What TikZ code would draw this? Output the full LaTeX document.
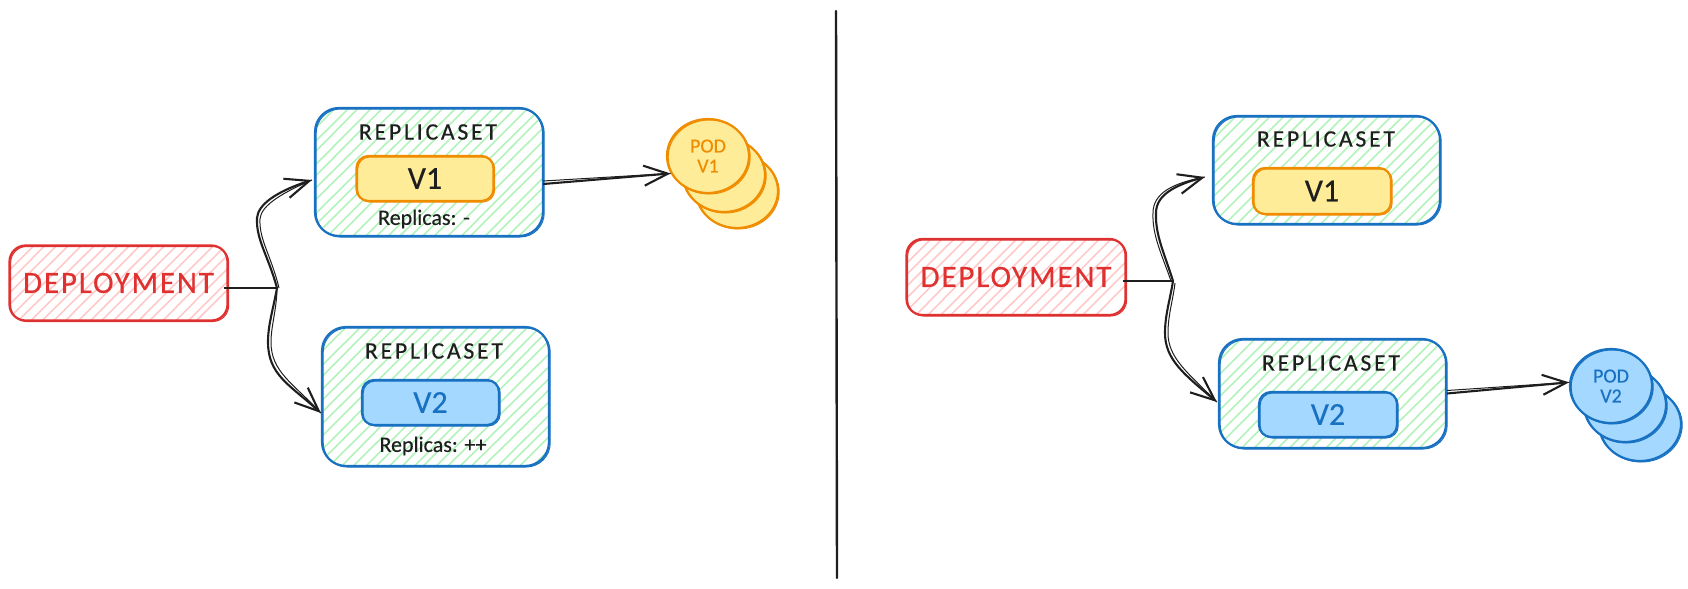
\documentclass[tikz,border=0pt]{standalone}
\usepackage{fontspec}
\usetikzlibrary{arrows.meta,shapes.geometric}
\setmainfont[FakeBold=0.35]{Carlito}
\newfontfamily\capsbig[LetterSpace=6,FakeBold=0.5]{Carlito}
\newfontfamily\capsmid[LetterSpace=12,FakeBold=0.5]{Carlito}
\definecolor{strokered}{HTML}{E03131}
\definecolor{strokeblue}{HTML}{1971C2}
\definecolor{strokeorange}{HTML}{F08C00}
\definecolor{strokeink}{HTML}{1E1E1E}
\definecolor{fillyellow}{HTML}{FFEC99}
\definecolor{fillblue}{HTML}{A5D8FF}
\definecolor{hatchgreen}{HTML}{B2F2BB}
\definecolor{hatchred}{HTML}{FFC9C9}
\tikzset{
  sketchy/.style={draw=#1,line width=1.1pt,
    postaction={draw=#1,line width=.5pt,transform canvas={shift={(.6pt,-.5pt)}}}},
  hatched/.style={path picture={
    \foreach \d in {-200,-188,...,200}{
      \draw[#1,line width=.8pt] (\d-85+rnd*4,90) -- (\d+95+rnd*4,-90);}}},
  rsbox/.style={rectangle,rounded corners=12pt,sketchy=strokeblue,hatched=hatchgreen,inner sep=0pt},
  depbox/.style={rectangle,rounded corners=8pt,sketchy=strokered,hatched=hatchred,inner sep=0pt,
    minimum width=109pt,minimum height=37.5pt,text=strokered,font=\capsbig\fontsize{15.5}{18}\selectfont},
  vone/.style={rectangle,rounded corners=6pt,sketchy=strokeorange,fill=fillyellow,inner sep=0pt,
    minimum width=68.5pt,minimum height=22.5pt,text=strokeink,font=\fontsize{16}{18}\selectfont},
  vtwo/.style={rectangle,rounded corners=6pt,sketchy=strokeblue,fill=fillblue,inner sep=0pt,
    minimum width=68.5pt,minimum height=22.5pt,text=strokeblue,font=\fontsize{16}{18}\selectfont},
  podo/.style={ellipse,sketchy=strokeorange,fill=fillyellow,inner sep=0pt,minimum width=41pt,minimum height=37pt,
    text=strokeorange,align=center,font=\fontsize{10}{10}\selectfont},
  podb/.style={ellipse,sketchy=strokeblue,fill=fillblue,inner sep=0pt,minimum width=41pt,minimum height=37pt,
    text=strokeblue,align=center,font=\fontsize{10}{10}\selectfont},
  rstitle/.style={inner sep=0pt,text=strokeink,font=\capsmid\fontsize{11.8}{14}\selectfont},
  replicas/.style={inner sep=0pt,text=strokeink,font=\fontsize{11}{12}\selectfont},
  conn/.style={draw=strokeink,line width=1.05pt,-{Straight Barb[length=12pt,width=10pt,line width=1.05pt]}},
  connthin/.style={draw=strokeink,line width=.5pt},
  divider/.style={draw=strokeink,line width=1.2pt,line cap=round}
}
\pgfmathsetseed{11}
\begin{document}
\begin{tikzpicture}[x=0.5pt,y=-0.5pt]
\useasboundingbox (0,0) rectangle (1688,589);

% divider
\coordinate (dtop) at (836,11);
\coordinate (dbot) at (837,578);
\draw[divider] (dtop) -- (dbot);

% left half
\node[depbox] (dep1) at (118.5,283) {DEPLOYMENT};
\node[rsbox,minimum width=114pt,minimum height=64pt] (rs1) at (429,172) {};
\node[rstitle] (t1) at (428,132) {REPLICASET};
\node[vone] (v1) at (425,178.5) {V1};
\node[replicas] (r1) at (424,219) {Replicas: -};
\node[rsbox,minimum width=113.5pt,minimum height=69.5pt] (rs2) at (435.5,396.5) {};
\node[rstitle] (t2) at (434,351) {REPLICASET};
\node[vtwo] (v2) at (430.5,402.5) {V2};
\node[replicas] (r2) at (433,446) {Replicas: ++};

\node[podo] (pod1c) at (737,191) {};
\node[podo] (pod1b) at (724,175) {};
\node[podo] (pod1) at (708,156) {POD\\V1};

\coordinate (j1) at (277,288);
\draw[conn,-] ([shift={(-5,5)}]dep1.east) -- (j1);
\draw[conn] (j1) .. controls (268,255) and (256,240) .. (257,218)
  .. controls (258,205) and (275,192) .. ([shift={(-2,8)}]rs1.west);
\draw[connthin] ([shift={(2,0)}]j1) .. controls (271,255) and (259,240) .. (260,219)
  .. controls (261,207) and (277,195) .. ([shift={(-2,8)}]rs1.west);
\draw[conn] (j1) .. controls (273,310) and (268,325) .. (268,342)
  .. controls (268,375) and (290,385) .. ([shift={(0,16.5)}]rs2.west);
\draw[connthin] ([shift={(0,3)}]j1) .. controls (276,312) and (271,327) .. (271,342)
  .. controls (271,372) and (293,383) .. ([shift={(0,16.5)}]rs2.west);
\draw[conn] ([shift={(-1,12)}]rs1.east) -- (pod1.205);
\draw[connthin] ([shift={(-1,9)}]rs1.east) -- (pod1.205);

% right half
\node[depbox,minimum width=109.5pt,minimum height=38pt] (dep2) at (1016,277) {DEPLOYMENT};
\node[rsbox,minimum width=113.5pt,minimum height=54pt] (rs3) at (1326.5,170) {};
\node[rstitle] (t3) at (1326,139) {REPLICASET};
\node[vone,minimum width=69pt,minimum height=23pt] (v3) at (1322,191) {V1};
\node[rsbox,minimum width=113.5pt,minimum height=54.5pt] (rs4) at (1332.5,393.5) {};
\node[rstitle] (t4) at (1331,363) {REPLICASET};
\node[vtwo,minimum width=69pt] (v4) at (1328,414.5) {V2};

\node[podb] (pod2c) at (1640,424) {};
\node[podb] (pod2b) at (1625,405) {};
\node[podb] (pod2) at (1611,386) {POD\\V2};

\coordinate (j2) at (1173,281);
\draw[conn,-] ([shift={(-4,4)}]dep2.east) -- (j2);
\draw[conn] (j2) .. controls (1165,255) and (1155,235) .. (1156,213)
  .. controls (1156,195) and (1175,185) .. ([shift={(-7,7)}]rs3.west);
\draw[connthin] ([shift={(-2,0)}]j2) .. controls (1162,255) and (1152,235) .. (1153,213)
  .. controls (1153,193) and (1173,183) .. ([shift={(-7,7)}]rs3.west);
\draw[conn] (j2) .. controls (1170,300) and (1165,315) .. (1165,333)
  .. controls (1165,360) and (1185,375) .. ([shift={(-1,8.5)}]rs4.west);
\draw[connthin] ([shift={(2,2)}]j2) .. controls (1173,300) and (1168,315) .. (1168,333)
  .. controls (1168,358) and (1188,373) .. ([shift={(-1,8.5)}]rs4.west);
\draw[conn] (rs4.east) -- (pod2.175);
\draw[connthin] ([shift={(0,-3)}]rs4.east) -- (pod2.175);
\end{tikzpicture}
\end{document}
